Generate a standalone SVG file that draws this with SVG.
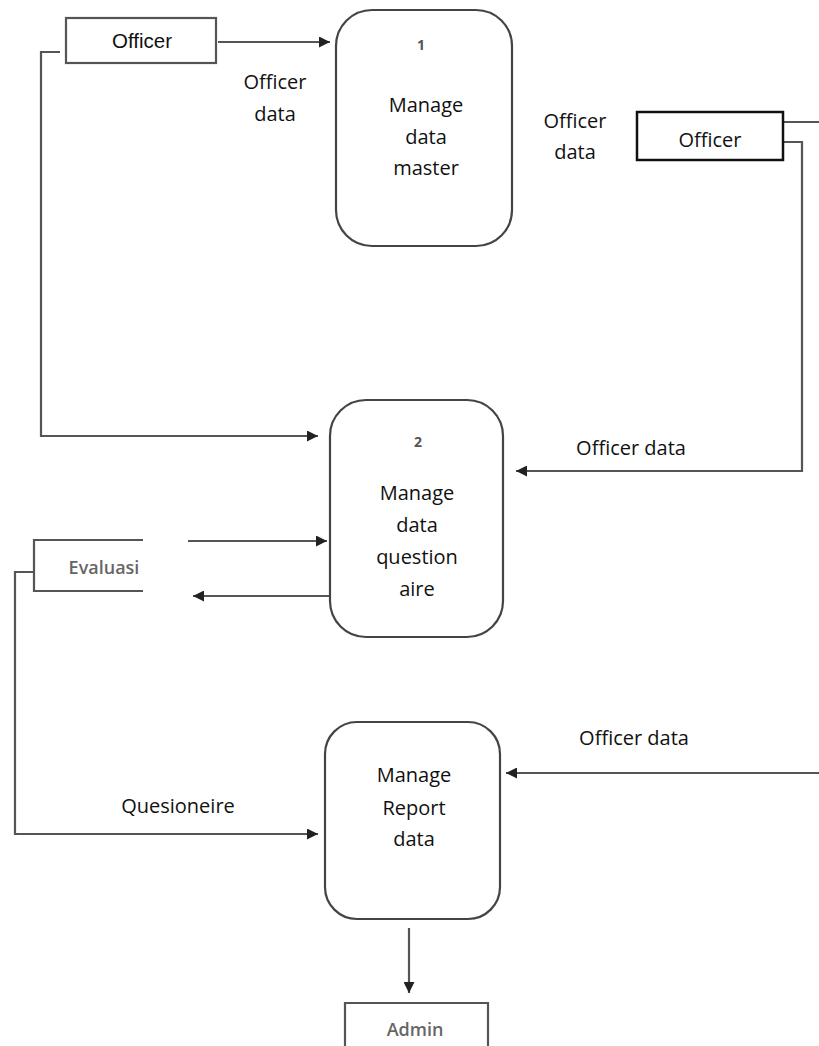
<svg xmlns="http://www.w3.org/2000/svg" width="819" height="1046" viewBox="0 0 819 1046">
<defs>
<style>
.proc{fill:#fff;stroke:#444;stroke-width:2.2}
.ent{fill:#fff;stroke:#555;stroke-width:2.2}
.entb{fill:#fff;stroke:#111;stroke-width:2.5}
.ln{fill:none;stroke:#555;stroke-width:2.2}
.t{font-family:"Open Sans","Liberation Sans",sans-serif;font-size:20px;fill:#111;text-anchor:middle}
.ta{font-family:"Liberation Sans",Arial,sans-serif;font-size:20.5px;fill:#111;text-anchor:middle}
.tg{font-family:"Open Sans","Liberation Sans",sans-serif;font-size:18px;font-weight:600;fill:#666;text-anchor:middle}
.num{font-family:"Open Sans","Liberation Sans",sans-serif;font-size:14px;font-weight:700;fill:#555;text-anchor:middle}
</style>
<marker id="arr" viewBox="0 0 10 10" refX="10" refY="5" markerWidth="5" markerHeight="5" orient="auto" markerUnits="strokeWidth">
<path d="M0,0 L10,5 L0,10 z" fill="#222"/>
</marker>
</defs>
<rect width="819" height="1046" fill="#fff"/>

<g id="connectors">
<path class="ln" d="M218,42 H330" marker-end="url(#arr)"/>
<path class="ln" d="M60,52 H41 V436 H318" marker-end="url(#arr)"/>
<path class="ln" d="M783,122 H819"/>
<path class="ln" d="M783,142 H802 V471 H516" marker-end="url(#arr)"/>
<path class="ln" d="M188,541 H327" marker-end="url(#arr)"/>
<path class="ln" d="M330,596 H193" marker-end="url(#arr)"/>
<path class="ln" d="M34,572 H15 V834 H318" marker-end="url(#arr)"/>
<path class="ln" d="M819,773 H506" marker-end="url(#arr)"/>
<path class="ln" d="M409,928 V993" marker-end="url(#arr)"/>
</g>

<g id="labels">
<text class="t" x="275" y="89">Officer</text>
<text class="t" x="275" y="121">data</text>
<text class="t" x="575" y="128">Officer</text>
<text class="t" x="575" y="159">data</text>
<text class="t" x="631" y="455">Officer data</text>
<text class="t" x="634" y="745">Officer data</text>
<text class="t" x="178" y="813">Quesioneire</text>
</g>

<g id="officer-left">
<rect class="ent" x="66" y="18" width="150" height="45"/>
<text class="ta" x="142" y="48">Officer</text>
</g>

<g id="officer-right">
<rect class="entb" x="637" y="112" width="146" height="48"/>
<text class="t" x="710" y="147">Officer</text>
</g>

<g id="process-1">
<rect class="proc" x="336" y="10" width="176" height="236" rx="36" ry="36"/>
<text class="num" x="421" y="50">1</text>
<text class="t" x="426" y="112">Manage</text>
<text class="t" x="426" y="144">data</text>
<text class="t" x="426" y="175">master</text>
</g>

<g id="process-2">
<rect class="proc" x="330" y="400" width="173" height="237" rx="36" ry="36"/>
<text class="num" x="418" y="447">2</text>
<text class="t" x="417" y="500">Manage</text>
<text class="t" x="417" y="532">data</text>
<text class="t" x="417" y="564">question</text>
<text class="t" x="417" y="596">aire</text>
</g>

<g id="evaluasi">
<path class="ln" d="M143,540 H34 V591 H143"/>
<text class="tg" x="104" y="574">Evaluasi</text>
</g>

<g id="process-3">
<rect class="proc" x="325" y="722" width="175" height="197" rx="32" ry="32"/>
<text class="t" x="414" y="782">Manage</text>
<text class="t" x="414" y="815">Report</text>
<text class="t" x="414" y="846">data</text>
</g>

<g id="admin">
<path class="ln" d="M345,1046 V1003 H488 V1046"/>
<text class="tg" x="415" y="1036">Admin</text>
</g>
</svg>
